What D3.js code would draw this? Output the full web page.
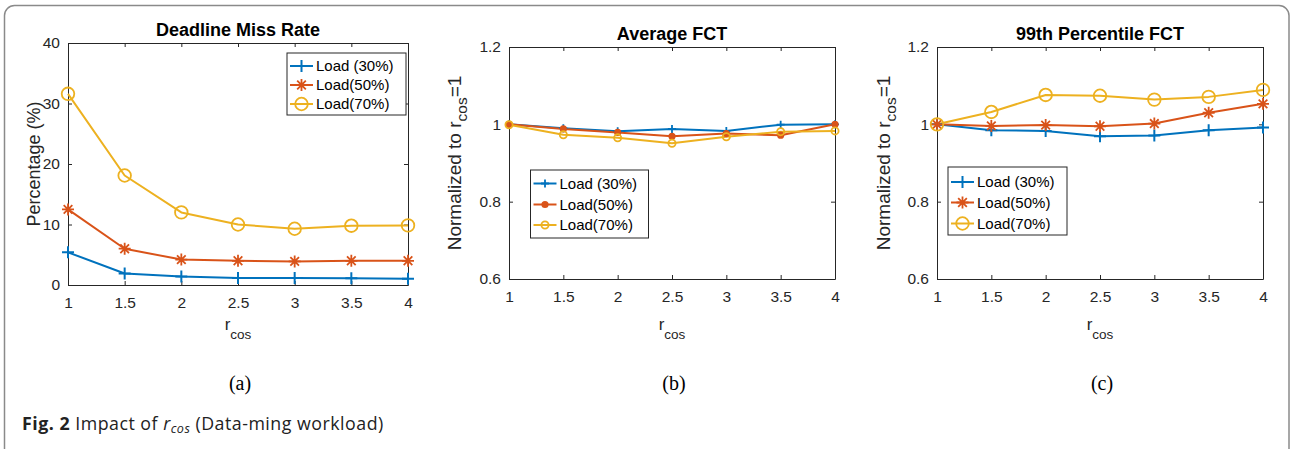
<!DOCTYPE html>
<html>
<head>
<meta charset="utf-8">
<script src="https://cdn.jsdelivr.net/npm/d3@7/dist/d3.min.js"></script>
<style>
  html, body { margin: 0; padding: 0; background: #fff; }
  svg { display: block; }
</style>
</head>
<body>
<svg id="chart" width="1291" height="449"></svg>
<script>
// ---------- DATA ----------
const rcosValues = [1, 1.5, 2, 2.5, 3, 3.5, 4];
const xTickLabels = ["1", "1.5", "2", "2.5", "3", "3.5", "4"];
const seriesNames = ["Load (30%)", "Load(50%)", "Load(70%)"];

// (a) Deadline Miss Rate (%)
const missRate30 = [5.4, 1.9, 1.4, 1.15, 1.15, 1.1, 1.05];
const missRate50 = [12.5, 6.0, 4.2, 4.0, 3.9, 4.0, 4.0];
const missRate70 = [31.6, 18.1, 12.0, 10.0, 9.3, 9.8, 9.85];
const missRateTicks = [0, 10, 20, 30, 40];

// (b) Average FCT, normalized to r_cos = 1
const avgFct30 = [1.0, 0.99, 0.982, 0.988, 0.983, 0.999, 1.0];
const avgFct50 = [1.0, 0.988, 0.979, 0.969, 0.976, 0.972, 1.0];
const avgFct70 = [0.999, 0.973, 0.965, 0.951, 0.968, 0.981, 0.983];

// (c) 99th Percentile FCT, normalized to r_cos = 1
const p99Fct30 = [1.0, 0.985, 0.983, 0.969, 0.971, 0.985, 0.992];
const p99Fct50 = [1.0, 0.996, 0.998, 0.995, 1.002, 1.03, 1.053];
const p99Fct70 = [1.0, 1.032, 1.076, 1.074, 1.064, 1.071, 1.089];
const fctTicks = [0.6, 0.8, 1, 1.2];
const fctTickLabels = ["0.6", "0.8", "1", "1.2"];

// ---------- STYLE ----------
const colors = ["#0072BD", "#D95319", "#EDB120"];
const axisColor = "#262626";
const sans = "'Liberation Sans', Arial, Helvetica, sans-serif";

const svg = d3.select("#chart");

// outer rounded frame
svg.append("rect")
  .attr("x", 4.5).attr("y", 5.5)
  .attr("width", 1284.5).attr("height", 470)
  .attr("rx", 10).attr("ry", 10)
  .attr("fill", "none").attr("stroke", "#8a8a8a").attr("stroke-width", 1.5);

const panels = [
  {
    title: "Deadline Miss Rate", sub: "(a)",
    box: { x0: 68, x1: 408, y0: 43, y1: 285 },
    yDomain: [0, 40], yTicks: missRateTicks, yTickLabels: missRateTicks.map(String),
    series: [missRate30, missRate50, missRate70],
    yLabel: "pct", yLabelX: 34,
    markers: ["plus", "star", "circle"],
    legend: { x: 287, y: 53, w: 119, h: 62, rows: [66, 85, 104] }
  },
  {
    title: "Average FCT", sub: "(b)",
    box: { x0: 509, x1: 835, y0: 47, y1: 279 },
    yDomain: [0.6, 1.2], yTicks: fctTicks, yTickLabels: fctTickLabels,
    series: [avgFct30, avgFct50, avgFct70],
    yLabel: "norm", yLabelX: 455,
    markers: ["plusSmall", "dot", "circleSmall"],
    legend: { x: 530.5, y: 170, w: 118, h: 68, rows: [183.5, 204.5, 225] }
  },
  {
    title: "99th Percentile FCT", sub: "(c)",
    box: { x0: 937, x1: 1263, y0: 47, y1: 279 },
    yDomain: [0.6, 1.2], yTicks: fctTicks, yTickLabels: fctTickLabels,
    series: [p99Fct30, p99Fct50, p99Fct70],
    yLabel: "norm", yLabelX: 884,
    markers: ["plus", "star", "circle"],
    legend: { x: 948, y: 167, w: 119, h: 68, rows: [182, 202.5, 223.5] }
  }
];

function drawMarker(g, type, x, y, color) {
  const m = g.append("g").attr("transform", `translate(${x},${y})`);
  if (type === "plus") {
    m.append("path").attr("d", "M-6,0H6M0,-6V6")
      .attr("stroke", color).attr("stroke-width", 2).attr("fill", "none");
  } else if (type === "plusSmall") {
    m.append("path").attr("d", "M-4,0H4M0,-4V4")
      .attr("stroke", color).attr("stroke-width", 1.8).attr("fill", "none");
  } else if (type === "star") {
    const r = 6, d = r * 0.72;
    m.append("path").attr("d", `M-${r},0H${r}M0,-${r}V${r}M-${d},-${d}L${d},${d}M-${d},${d}L${d},-${d}`)
      .attr("stroke", color).attr("stroke-width", 1.8).attr("fill", "none");
  } else if (type === "circle") {
    m.append("circle").attr("r", 6.3)
      .attr("stroke", color).attr("stroke-width", 1.8).attr("fill", "none");
  } else if (type === "circleSmall") {
    m.append("circle").attr("r", 3.6)
      .attr("stroke", color).attr("stroke-width", 1.8).attr("fill", "none");
  } else if (type === "dot") {
    m.append("circle").attr("r", 3.6).attr("fill", color);
  }
}

panels.forEach(p => {
  const x = d3.scaleLinear().domain([1, 4]).range([p.box.x0, p.box.x1]);
  const y = d3.scaleLinear().domain(p.yDomain).range([p.box.y1, p.box.y0]);
  const g = svg.append("g");

  g.append("rect").attr("x", p.box.x0).attr("y", p.box.y0)
    .attr("width", p.box.x1 - p.box.x0).attr("height", p.box.y1 - p.box.y0)
    .attr("fill", "#fff");

  const tickLen = 4;
  const xb = g.append("g").attr("transform", `translate(0,${p.box.y1})`)
    .call(d3.axisBottom(x).tickValues(rcosValues).tickFormat((d, i) => xTickLabels[i])
      .tickSizeInner(-tickLen).tickSizeOuter(0).tickPadding(12));
  const xt = g.append("g").attr("transform", `translate(0,${p.box.y0})`)
    .call(d3.axisTop(x).tickValues(rcosValues).tickFormat("")
      .tickSizeInner(-tickLen).tickSizeOuter(0));
  const yl = g.append("g").attr("transform", `translate(${p.box.x0},0)`)
    .call(d3.axisLeft(y).tickValues(p.yTicks).tickFormat((d, i) => p.yTickLabels[i])
      .tickSizeInner(-tickLen).tickSizeOuter(0).tickPadding(8));
  const yr = g.append("g").attr("transform", `translate(${p.box.x1},0)`)
    .call(d3.axisRight(y).tickValues(p.yTicks).tickFormat("")
      .tickSizeInner(-tickLen).tickSizeOuter(0));
  [xb, xt, yl, yr].forEach(a => {
    a.select(".domain").attr("stroke", axisColor).attr("stroke-width", 1);
    a.selectAll(".tick line").attr("stroke", axisColor).attr("stroke-width", 1);
    a.selectAll("text").attr("fill", "#262626").attr("font-family", sans).attr("font-size", 15.5);
  });

  const line = d3.line().x((d, i) => x(rcosValues[i])).y(d => y(d));
  p.series.forEach((s, si) => {
    g.append("path").datum(s).attr("d", line)
      .attr("fill", "none").attr("stroke", colors[si]).attr("stroke-width", 2)
      .attr("stroke-linejoin", "round");
  });
  p.series.forEach((s, si) => {
    s.forEach((v, i) => drawMarker(g, p.markers[si], x(rcosValues[i]), y(v), colors[si]));
  });

  // title
  g.append("text").attr("x", (p.box.x0 + p.box.x1) / 2).attr("y", p.box.y0 - 7)
    .attr("text-anchor", "middle").attr("font-family", sans).attr("font-weight", "bold")
    .attr("font-size", 18).attr("fill", "#000").text(p.title);

  // x label r_cos
  const xlab = g.append("text").attr("x", (p.box.x0 + p.box.x1) / 2).attr("y", 330)
    .attr("text-anchor", "middle").attr("font-family", sans).attr("fill", "#262626");
  xlab.append("tspan").attr("font-size", 17).text("r");
  xlab.append("tspan").attr("font-size", 13.5).attr("dy", 9).text("cos");

  // y label
  const cy = (p.box.y0 + p.box.y1) / 2;
  const ylab = g.append("text")
    .attr("transform", `translate(${p.yLabelX},${cy}) rotate(-90)`)
    .attr("text-anchor", "middle").attr("font-family", sans).attr("fill", "#262626")
    .attr("dy", "0.35em");
  if (p.yLabel === "pct") {
    ylab.attr("font-size", 18).text("Percentage (%)");
  } else {
    ylab.append("tspan").attr("font-size", 19).text("Normalized to r");
    ylab.append("tspan").attr("font-size", 15.5).attr("dy", 6.5).text("cos");
    ylab.append("tspan").attr("font-size", 19).attr("dy", -6.5).text("=1");
  }

  // legend
  const L = p.legend;
  g.append("rect").attr("x", L.x).attr("y", L.y).attr("width", L.w).attr("height", L.h)
    .attr("fill", "#fff").attr("stroke", axisColor).attr("stroke-width", 1);
  seriesNames.forEach((name, si) => {
    const ry = L.rows[si];
    g.append("line").attr("x1", L.x + 3).attr("x2", L.x + 26).attr("y1", ry).attr("y2", ry)
      .attr("stroke", colors[si]).attr("stroke-width", 2);
    drawMarker(g, p.markers[si], L.x + 14.5, ry, colors[si]);
    g.append("text").attr("x", L.x + 29).attr("y", ry).attr("dy", "0.36em")
      .attr("font-family", sans).attr("font-size", 15).attr("fill", "#000").text(name);
  });

  // sub-figure label
  g.append("text").attr("x", (p.box.x0 + p.box.x1) / 2 + 2).attr("y", 390)
    .attr("text-anchor", "middle").attr("font-family", "'Liberation Serif', 'DejaVu Serif', serif")
    .attr("font-size", 20).attr("fill", "#000").text(p.sub);
});

// caption
const cap = svg.append("text").attr("x", 22).attr("y", 430)
  .attr("font-family", "'Open Sans', 'Noto Sans', sans-serif").attr("font-size", 17.8)
  .attr("letter-spacing", 0.5).attr("fill", "#222");
cap.append("tspan").attr("font-weight", "bold").text("Fig. 2");
cap.append("tspan").text(" Impact of ");
cap.append("tspan").attr("font-style", "italic").text("r");
cap.append("tspan").attr("font-style", "italic").attr("font-size", 12.5).attr("dy", 3).text("cos");
cap.append("tspan").attr("dy", -3).text(" (Data-ming workload)");
</script>
</body>
</html>
